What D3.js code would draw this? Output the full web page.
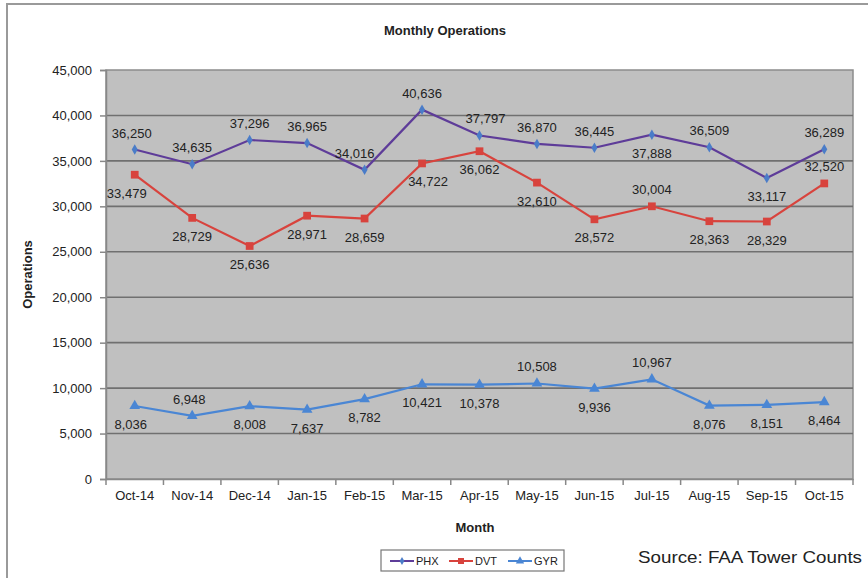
<!DOCTYPE html>
<html>
<head>
<meta charset="utf-8">
<script src="https://cdn.jsdelivr.net/npm/d3@7"></script>
<style>
  body { margin: 0; background: #fff; }
  svg text { font-family: Arial, 'Liberation Sans', sans-serif; fill: #222; }
</style>
</head>
<body>
<script>
'use strict'

const months = ['Oct-14', 'Nov-14', 'Dec-14', 'Jan-15', 'Feb-15', 'Mar-15', 'Apr-15',
  'May-15', 'Jun-15', 'Jul-15', 'Aug-15', 'Sep-15', 'Oct-15']
const phx = [36250, 34635, 37296, 36965, 34016, 40636, 37797, 36870, 36445, 37888, 36509, 33117, 36289]
const dvt = [33479, 28729, 25636, 28971, 28659, 34722, 36062, 32610, 28572, 30004, 28363, 28329, 32520]
const gyr = [8036, 6948, 8008, 7637, 8782, 10421, 10378, 10508, 9936, 10967, 8076, 8151, 8464]
const yTicks = [0, 5000, 10000, 15000, 20000, 25000, 30000, 35000, 40000, 45000]

// where each value label sits: a = above, b = below
const phxPos = ['a', 'a', 'a', 'a', 'a', 'a', 'a', 'a', 'a', 'b', 'a', 'b', 'a']
const dvtPos = ['b', 'b', 'b', 'b', 'b', 'b', 'b', 'b', 'b', 'a', 'b', 'b', 'a']
const gyrPos = ['b', 'a', 'b', 'b', 'b', 'b', 'b', 'a', 'b', 'a', 'b', 'b', 'b']
// sideways nudge of a few labels, as excel placed them
const phxNudge = [-3, 0, 0, 0, -10, 0, 6, 0, 0, 0, 0, 0, 0]
const dvtNudge = [-8, 0, 0, 0, 0, 6, 0, 0, 0, 0, 0, 0, 0]
const gyrNudge = [-4, -3, 0, 0, 0, 0, 0, 0, 0, 0, 0, 0, 0]

const width = 868
const height = 578
const plot = { left: 106, right: 853, top: 70, bottom: 479 }

const series = [
  { name: 'PHX', values: phx, pos: phxPos, nudge: phxNudge, line: '#5e3c99', mark: '#4a7cc8', symbol: d3.symbolDiamond, size: 32 },
  { name: 'DVT', values: dvt, pos: dvtPos, nudge: dvtNudge, line: '#d8433d', mark: '#d8433d', symbol: d3.symbolSquare, size: 60 },
  { name: 'GYR', values: gyr, pos: gyrPos, nudge: gyrNudge, line: '#4a86d4', mark: '#4a86d4', symbol: d3.symbolTriangle, size: 50 }
]

const svg = d3.select('body').append('svg')
  .attr('width', width)
  .attr('height', height)

// outer chart frame
svg.append('rect')
  .attr('x', 7).attr('y', 4)
  .attr('width', width + 10).attr('height', height + 10)
  .attr('fill', 'none')
  .attr('stroke', '#9a9a9a')
  .attr('stroke-width', 2)

const x = d3.scaleBand()
  .domain(months)
  .range([plot.left, plot.right])

const y = d3.scaleLinear()
  .domain([0, 45000])
  .range([plot.bottom, plot.top])

svg.append('rect')
  .attr('x', plot.left).attr('y', plot.top)
  .attr('width', plot.right - plot.left)
  .attr('height', plot.bottom - plot.top)
  .attr('fill', '#c0c0c0')
  .attr('stroke', '#8c8c8c')
  .attr('stroke-width', 1.5)

// gridlines
svg.append('g')
  .selectAll('line')
  .data(yTicks.filter(d => d > 0 && d < 45000))
  .enter()
  .append('line')
  .attr('x1', plot.left).attr('x2', plot.right)
  .attr('y1', d => y(d)).attr('y2', d => y(d))
  .attr('stroke', '#707070')
  .attr('stroke-width', 1.6)

const yAxis = svg.append('g')
  .attr('transform', 'translate(' + plot.left + ',0)')
  .call(d3.axisLeft(y).tickValues(yTicks).tickSize(6).tickPadding(8).tickFormat(d3.format(',')))
yAxis.select('.domain').attr('stroke', '#888').attr('stroke-width', 1.5)
yAxis.selectAll('.tick line').attr('stroke', '#888').attr('stroke-width', 1.5)
yAxis.selectAll('text').style('font-size', '13px').attr('fill', '#222')

const xAxis = svg.append('g')
  .attr('transform', 'translate(0,' + plot.bottom + ')')
  .call(d3.axisBottom(x).tickSize(0).tickPadding(12))
xAxis.select('.domain').attr('stroke', '#888').attr('stroke-width', 1.5)
xAxis.selectAll('text').style('font-size', '13px').attr('fill', '#222')

// category boundary ticks
svg.append('g')
  .selectAll('line')
  .data(months.concat(['end']))
  .enter()
  .append('line')
  .attr('x1', (d, i) => plot.left + i * x.bandwidth())
  .attr('x2', (d, i) => plot.left + i * x.bandwidth())
  .attr('y1', plot.bottom).attr('y2', plot.bottom + 6)
  .attr('stroke', '#888')
  .attr('stroke-width', 1.5)

const cx = d => x(d) + x.bandwidth() / 2

const line = d3.line()
  .x((d, i) => cx(months[i]))
  .y(d => y(d))

series.forEach(function (s) {
  const g = svg.append('g')
  g.append('path')
    .datum(s.values)
    .attr('d', line)
    .attr('fill', 'none')
    .attr('stroke', s.line)
    .attr('stroke-width', 2.2)

  g.selectAll('path.mark')
    .data(s.values)
    .enter()
    .append('path')
    .attr('class', 'mark')
    .attr('d', d3.symbol().type(s.symbol).size(s.size))
    .attr('transform', (d, i) => 'translate(' + cx(months[i]) + ',' + y(d) + ')')
    .attr('fill', s.mark)

  g.selectAll('text')
    .data(s.values)
    .enter()
    .append('text')
    .attr('x', (d, i) => cx(months[i]) + s.nudge[i])
    .attr('y', (d, i) => y(d) + (s.pos[i] === 'a' ? -12 : 23))
    .attr('text-anchor', 'middle')
    .style('font-size', '13px')
    .attr('fill', '#333')
    .text(d3.format(','))
})

// titles
svg.append('text')
  .attr('x', 445).attr('y', 35)
  .attr('text-anchor', 'middle')
  .style('font-size', '13px').style('font-weight', 'bold')
  .text('Monthly Operations')

svg.append('text')
  .attr('transform', 'translate(32,' + ((plot.top + plot.bottom) / 2) + ') rotate(-90)')
  .attr('text-anchor', 'middle')
  .style('font-size', '13px').style('font-weight', 'bold')
  .text('Operations')

svg.append('text')
  .attr('x', 475).attr('y', 532)
  .attr('text-anchor', 'middle')
  .style('font-size', '13px').style('font-weight', 'bold')
  .text('Month')

// legend
const legend = svg.append('g').attr('transform', 'translate(381,550)')
legend.append('rect')
  .attr('width', 183).attr('height', 21)
  .attr('fill', '#fff')
  .attr('stroke', '#777')
  .attr('stroke-width', 1.2)

const item = legend.selectAll('g.item')
  .data(series)
  .enter()
  .append('g')
  .attr('class', 'item')
  .attr('transform', (d, i) => 'translate(' + (9 + i * 59) + ',11)')
item.append('line')
  .attr('x1', 0).attr('x2', 24)
  .attr('stroke', d => d.line)
  .attr('stroke-width', 2)
item.append('path')
  .attr('d', d => d3.symbol().type(d.symbol).size(d.size * 0.6)())
  .attr('transform', 'translate(12,0)')
  .attr('fill', d => d.mark)
item.append('text')
  .attr('x', 26).attr('y', 4)
  .style('font-size', '11px')
  .text(d => d.name)

svg.append('text')
  .attr('x', 638).attr('y', 563)
  .attr('textLength', 224)
  .attr('lengthAdjust', 'spacingAndGlyphs')
  .style('font-size', '17px')
  .attr('fill', '#111')
  .text('Source: FAA Tower Counts')
</script>
</body>
</html>
